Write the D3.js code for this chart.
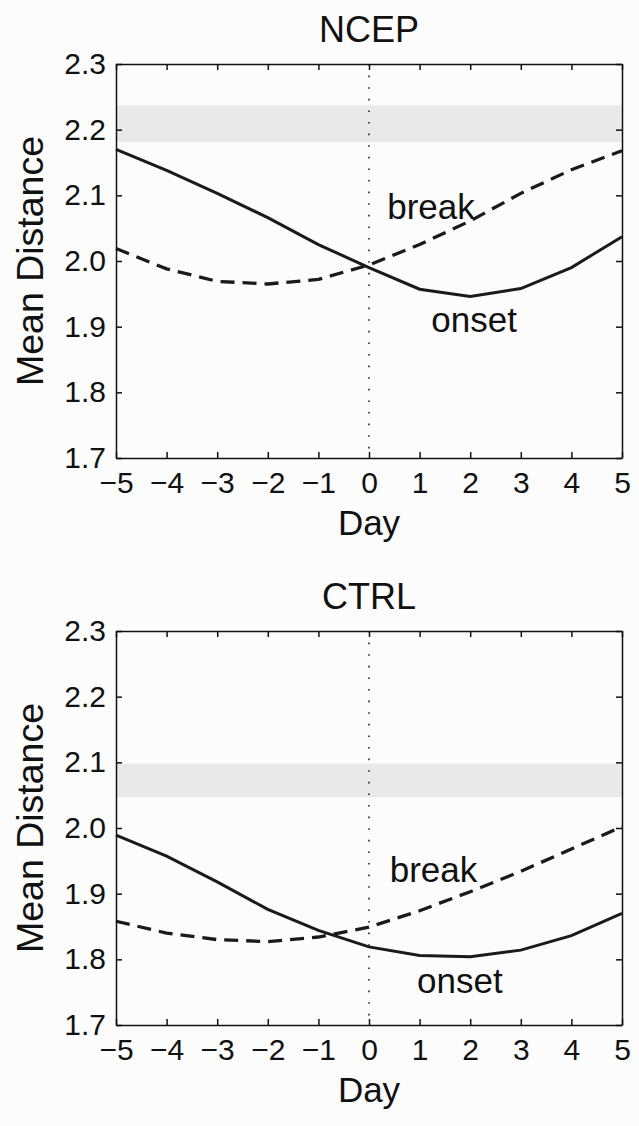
<!DOCTYPE html>
<html>
<head>
<meta charset="utf-8">
<script src="https://cdn.jsdelivr.net/npm/d3@7"></script>
<style>
  html, body { margin: 0; padding: 0; background: #fcfcfc; }
  svg { display: block; font-family: "Liberation Sans", Arial, Helvetica, sans-serif; }
  .axis path, .axis line { stroke: #111; stroke-width: 1.5; }
  .axis text { font-size: 30px; fill: #111; }
</style>
</head>
<body>
<div id="chart"></div>
<script>
// days on the x axis
const days = [-5, -4, -3, -2, -1, 0, 1, 2, 3, 4, 5];

// NCEP panel
const ncepOnset = [2.170, 2.138, 2.103, 2.066, 2.025, 1.990, 1.957, 1.946, 1.958, 1.990, 2.037];
const ncepBreak = [2.019, 1.988, 1.969, 1.965, 1.972, 1.994, 2.025, 2.061, 2.103, 2.139, 2.168];
const ncepBand = [2.181, 2.237];

// CTRL panel
const ctrlOnset = [1.989, 1.957, 1.918, 1.876, 1.844, 1.819, 1.806, 1.804, 1.814, 1.836, 1.870];
const ctrlBreak = [1.858, 1.840, 1.830, 1.827, 1.834, 1.849, 1.874, 1.903, 1.934, 1.968, 2.002];
const ctrlBand = [2.047, 2.098];

const yTicks = [1.7, 1.8, 1.9, 2.0, 2.1, 2.2, 2.3];
const xTicks = days;

const width = 639, height = 1126;

const svg = d3.select("#chart").append("svg")
    .attr("width", width)
    .attr("height", height);

// draws one panel, top = y pixel of the 2.3 line
function drawPanel(top, title, onset, brk, band, labels){
    const left = 116, right = 622, h = 394;

    const x = d3.scaleLinear().domain([-5, 5]).range([left, right]);
    const y = d3.scaleLinear().domain([1.7, 2.3]).range([top + h, top]);

    const g = svg.append("g");

    // shaded band
    g.append("rect")
        .attr("x", x(-5))
        .attr("width", x(5) - x(-5))
        .attr("y", y(band[1]))
        .attr("height", y(band[0]) - y(band[1]))
        .attr("fill", "#e9e9e9");

    // dotted line at day 0
    g.append("line")
        .attr("x1", x(0)).attr("x2", x(0))
        .attr("y1", y(2.3)).attr("y2", y(1.7))
        .attr("stroke", "#222")
        .attr("stroke-width", 1.6)
        .attr("stroke-dasharray", "1.6,10");

    const line = d3.line()
        .x((d, i) => x(days[i]))
        .y(d => y(d));

    g.append("path")
        .datum(onset)
        .attr("d", line)
        .attr("fill", "none")
        .attr("stroke", "#1a1a1a")
        .attr("stroke-width", 3);

    g.append("path")
        .datum(brk)
        .attr("d", line)
        .attr("fill", "none")
        .attr("stroke", "#1a1a1a")
        .attr("stroke-width", 3.3)
        .attr("stroke-dasharray", "14,8");

    // axes, matlab style ticks inside on all sides
    const fmt = d => d < 0 ? "\u2212" + Math.abs(d) : String(d);

    g.append("g")
        .attr("class", "axis")
        .attr("transform", `translate(0,${y(1.7)})`)
        .call(d3.axisBottom(x).tickValues(xTicks).tickFormat(fmt)
            .tickSizeInner(-6).tickSizeOuter(0).tickPadding(14));

    g.append("g")
        .attr("class", "axis")
        .attr("transform", `translate(0,${y(2.3)})`)
        .call(d3.axisTop(x).tickValues(xTicks).tickFormat("")
            .tickSizeInner(-6).tickSizeOuter(0));

    g.append("g")
        .attr("class", "axis")
        .attr("transform", `translate(${x(-5)},0)`)
        .call(d3.axisLeft(y).tickValues(yTicks).tickFormat(d3.format(".1f"))
            .tickSizeInner(-6).tickSizeOuter(0).tickPadding(10));

    g.append("g")
        .attr("class", "axis")
        .attr("transform", `translate(${x(5)},0)`)
        .call(d3.axisRight(y).tickValues(yTicks).tickFormat("")
            .tickSizeInner(-6).tickSizeOuter(0));

    g.selectAll(".axis .domain").attr("stroke-width", 1.6);

    // title
    g.append("text")
        .attr("x", (left + right) / 2)
        .attr("y", top - 22)
        .attr("text-anchor", "middle")
        .attr("font-size", 36)
        .attr("fill", "#111")
        .text(title);

    // axis labels
    g.append("text")
        .attr("x", (left + right) / 2)
        .attr("y", top + h + 77)
        .attr("text-anchor", "middle")
        .attr("font-size", 35)
        .attr("fill", "#111")
        .text("Day");

    g.append("text")
        .attr("transform", `translate(43,${top + h / 2}) rotate(-90)`)
        .attr("text-anchor", "middle")
        .attr("font-size", 37.5)
        .attr("fill", "#111")
        .text("Mean Distance");

    // curve annotations
    labels.forEach(l => {
        g.append("text")
            .attr("x", x(l.day))
            .attr("y", y(l.value))
            .attr("font-size", 35)
            .attr("fill", "#111")
            .text(l.text);
    });
}

drawPanel(64, "NCEP", ncepOnset, ncepBreak, ncepBand, [
    {text: "break", day: 0.36, value: 2.064},
    {text: "onset", day: 1.23, value: 1.892}
]);

drawPanel(631, "CTRL", ctrlOnset, ctrlBreak, ctrlBand, [
    {text: "break", day: 0.41, value: 1.918},
    {text: "onset", day: 0.95, value: 1.749}
]);
</script>
</body>
</html>
